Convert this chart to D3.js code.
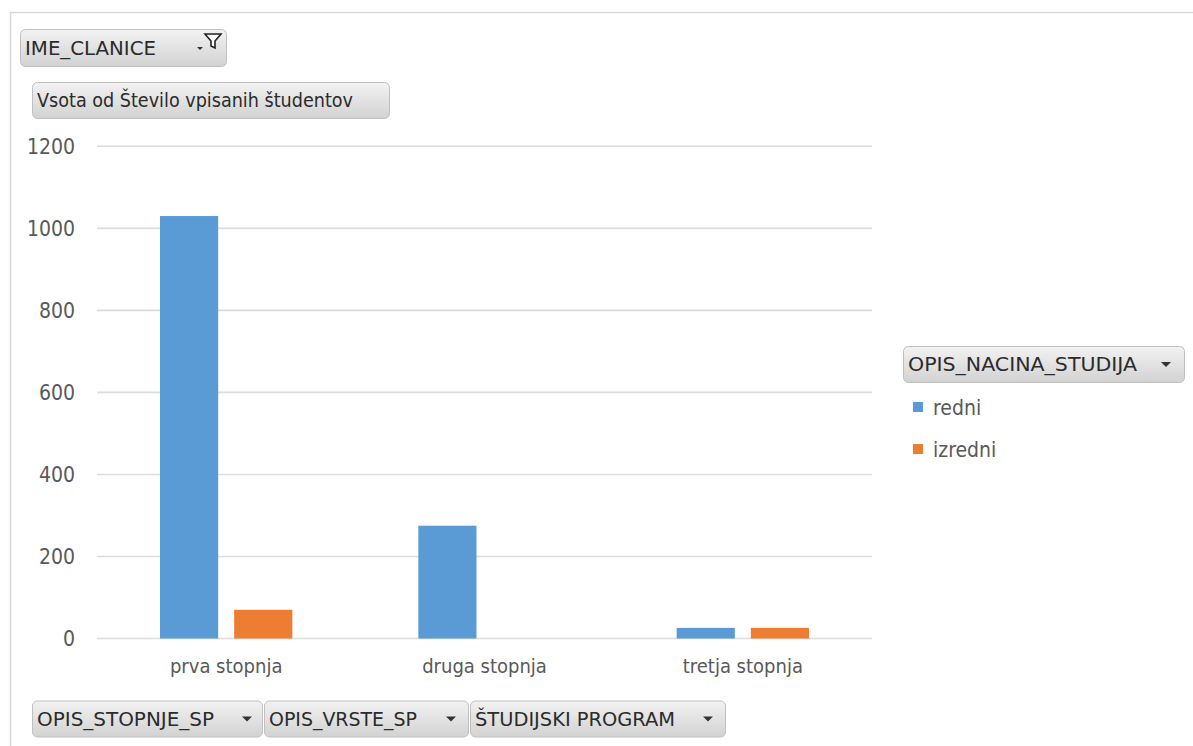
<!DOCTYPE html>
<html>
<head>
<meta charset="utf-8">
<script src="https://cdn.jsdelivr.net/npm/d3@7/dist/d3.min.js"></script>
<style>
html,body{margin:0;padding:0;background:#fff;}
svg{display:block;}
text{font-family:"Liberation Sans Narrow","DejaVu Sans Condensed","Roboto Condensed","DejaVu Sans",sans-serif;}
</style>
</head>
<body>
<svg id="chart" width="1193" height="746"></svg>
<script>
const categories = ["prva stopnja", "druga stopnja", "tretja stopnja"];
const seriesNames = ["redni", "izredni"];
const redni = [1030, 275, 26];
const izredni = [70, 0, 26];
const yTicks = [0, 200, 400, 600, 800, 1000, 1200];
const colors = ["#5B9BD5", "#ED7D31"];
const filterField = "IME_CLANICE";
const valueField = "Vsota od Število vpisanih študentov";
const legendField = "OPIS_NACINA_STUDIJA";
const axisFields = ["OPIS_STOPNJE_SP", "OPIS_VRSTE_SP", "ŠTUDIJSKI PROGRAM"];

const svg = d3.select("#chart");
const defs = svg.append("defs");
const grad = defs.append("linearGradient").attr("id","btn").attr("x1",0).attr("y1",0).attr("x2",0).attr("y2",1);
grad.append("stop").attr("offset","0%").attr("stop-color","#f2f2f2");
grad.append("stop").attr("offset","100%").attr("stop-color","#d2d2d2");

// chart frame
svg.append("path").attr("d","M10.5,746 V12.5 H1193").attr("fill","none").attr("stroke","#d9d9d9").attr("stroke-width",1.5);

const plot = {left:97, right:872, top:146.3, bottom:638.5};
const y = d3.scaleLinear().domain([0,1200]).range([plot.bottom, plot.top]);
const x0 = d3.scaleBand().domain(categories).range([plot.left, plot.right]).padding(0);
const x1 = d3.scaleBand().domain(seriesNames).range([63, x0.bandwidth()-63]).paddingInner(0.216);

// gridlines
svg.append("g").selectAll("line").data(yTicks).join("line")
  .attr("x1",plot.left).attr("x2",plot.right)
  .attr("y1",d=>y(d)).attr("y2",d=>y(d))
  .attr("stroke","#dcdcdc").attr("stroke-width",1.6);

// y axis labels
const yAxis = d3.axisLeft(y).tickValues(yTicks).tickFormat(d3.format("d")).tickSize(0).tickPadding(0);
const gy = svg.append("g").attr("transform","translate(75,0)").call(yAxis);
gy.select(".domain").remove();
gy.selectAll("text").attr("font-size",21).attr("fill","#595959")
  .style("font-family",'"Liberation Sans Narrow","DejaVu Sans Condensed","DejaVu Sans",sans-serif');

// x axis labels
const xAxis = d3.axisBottom(x0).tickSize(0).tickPadding(0);
const gx = svg.append("g").attr("transform","translate(0,659)").call(xAxis);
gx.select(".domain").remove();
gx.selectAll("text").attr("font-size",20).attr("fill","#595959").attr("dy","0.71em")
  .style("font-family",'"Liberation Sans Narrow","DejaVu Sans Condensed","DejaVu Sans",sans-serif');

// bars
const seriesData = [redni, izredni];
const groups = svg.append("g").selectAll("g").data(categories).join("g")
  .attr("transform",d=>`translate(${x0(d)},0)`);
groups.selectAll("rect").data((c,i)=>seriesNames.map((s,j)=>({s, v:seriesData[j][i], j})))
  .join("rect")
  .attr("x",d=>x1(d.s)).attr("width",x1.bandwidth())
  .attr("y",d=>y(d.v)).attr("height",d=>y(0)-y(d.v))
  .attr("fill",d=>colors[d.j]);

// button helper
function button(x, yTop, w, h, label, textW, arrowX, fs){
  const g = svg.append("g");
  g.append("rect").attr("x",x+0.5).attr("y",yTop+0.5).attr("width",w).attr("height",h)
    .attr("rx",5).attr("fill","url(#btn)").attr("stroke","#c0c0c0").attr("stroke-width",1);
  const t = g.append("text").attr("x",x+5).attr("y",yTop+h/2).attr("dy","0.35em")
    .attr("font-size",fs).attr("fill","#2b2b2b").text(label);
  if(textW){ t.attr("textLength",textW).attr("lengthAdjust","spacingAndGlyphs"); }
  if(arrowX){
    g.append("path").attr("d",`M${arrowX-5},${yTop+h/2-2} h10 l-5,5 z`).attr("fill","#333");
  }
  return g;
}

// filter button
const fb = button(20, 29, 206, 37, filterField, 131, null, 20);
fb.append("path").attr("d","M197,47 h6 l-3,3 z").attr("fill","#333");
fb.append("path").attr("d","M205,34 h16 l-6,7 v7 l-4,-2 v-5 z").attr("fill","#fff").attr("stroke","#222").attr("stroke-width",1.6);

// value field button
button(32, 82, 357, 36, valueField, 316, null, 20);

// legend
button(903, 346, 281, 36, legendField, 229, 1166, 20);
const leg = svg.append("g").selectAll("g").data(seriesNames).join("g")
  .attr("transform",(d,i)=>`translate(913,${402+i*42})`);
leg.append("rect").attr("width",10).attr("height",10).attr("fill",(d,i)=>colors[i]);
leg.append("text").attr("x",20).attr("y",13).attr("font-size",21).attr("fill","#595959").text(d=>d);

// axis field buttons
const axBtn = [
  {x:32, w:230, tw:177, ax:247},
  {x:264, w:204, tw:148, ax:451},
  {x:470, w:255, tw:200, ax:708}
];
axisFields.forEach((f,i)=>{
  const b = axBtn[i];
  button(b.x, 700.5, b.w, 36, f, b.tw, b.ax, 20);
});
</script>
</body>
</html>
